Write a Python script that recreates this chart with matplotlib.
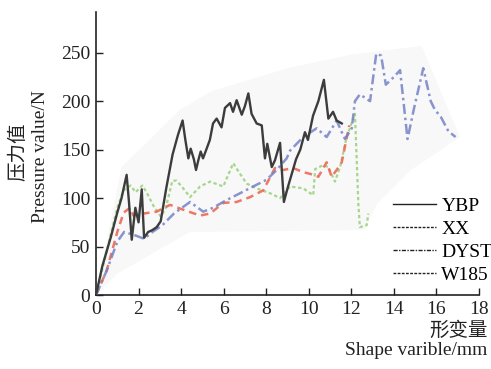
import matplotlib
matplotlib.use("Agg")
import matplotlib.pyplot as plt
from matplotlib.lines import Line2D
from matplotlib.patches import Polygon

# ---------------- data ----------------
ybp_x = [0, 0.3, 0.7, 1.0, 1.2, 1.44, 1.55, 1.68, 1.85, 2.0, 2.15, 2.26, 2.45, 2.65, 2.85, 3.04,
         3.3, 3.6, 3.85, 4.07, 4.2, 4.34, 4.45, 4.6, 4.7, 4.82, 4.92, 5.03, 5.2, 5.35, 5.5, 5.67,
         5.9, 6.06, 6.3, 6.44, 6.61, 6.85, 7.0, 7.16, 7.31, 7.55, 7.79, 7.94, 8.05, 8.26, 8.41,
         8.65, 8.83, 9.0, 9.2, 9.4, 9.6, 9.82, 9.96, 10.2, 10.45, 10.71, 10.92, 11.14, 11.31, 11.55]
ybp_y = [0, 30, 60, 85, 100, 124, 96, 57, 90, 75, 109, 59, 65, 67, 70, 76,
         110, 145, 165, 180, 160, 141, 151, 140, 129, 140, 148, 141, 151, 160, 177, 182,
         173, 193, 198, 189, 201, 186, 195, 208, 187, 177, 175, 141, 156, 132, 139,
         157, 96, 110, 125, 140, 150, 168, 160, 185, 200, 222, 182, 189, 180, 177]

xx_x = [0, 0.5, 1.0, 1.3, 1.6, 1.75, 2.22, 2.85, 3.48, 4.1, 4.89, 5.36, 5.98, 6.61, 7.24, 7.86,
        8.41, 8.8, 9.27, 9.7, 10.06, 10.45, 10.84, 11.07, 11.31, 11.55, 11.9]
xx_y = [0, 25, 65, 85, 90, 82, 84, 86, 93, 88, 82, 84, 95, 96, 101, 108,
        131, 129, 131, 127, 125, 122, 137, 122, 129, 137, 175]

dyst_x = [0, 0.5, 1.0, 1.32, 1.79, 2.26, 2.65, 3.12, 3.66, 4.42, 5.04, 5.5, 6.14, 6.77, 7.39,
          8.02, 8.49, 8.96, 9.12, 9.74, 10.37, 10.84, 11.31, 11.55, 11.7, 12.02, 12.17, 12.4,
          12.88, 13.17, 13.4, 13.62, 14.0, 14.29, 14.64, 14.95, 15.38, 15.73, 15.93, 16.2,
          16.56, 16.9]
dyst_y = [0, 25, 55, 65, 62, 58, 65, 72, 84, 96, 86, 90, 98, 105, 112,
          119, 129, 141, 149, 163, 172, 163, 180, 168, 161, 172, 200, 207,
          200, 249, 247, 217, 225, 232, 161, 193, 234, 200, 191, 184,
          169, 163]

w185_x = [0, 0.5, 1.0, 1.3, 1.63, 1.86, 2.18, 2.4, 2.7, 3.04, 3.27, 3.59, 3.79, 4.1, 4.42,
          4.89, 5.36, 5.98, 6.45, 6.77, 7.08, 7.55, 8.18, 8.65, 9.12, 9.74, 10.21, 10.3,
          10.68, 10.92, 11.23, 11.47, 11.78, 12.17, 12.33, 12.4, 12.72, 12.8]
w185_y = [0, 45, 90, 108, 113, 106, 113, 105, 92, 81, 89, 118, 118, 110, 101,
          112, 117, 112, 136, 125, 115, 110, 105, 100, 112, 110, 103, 130,
          134, 132, 117, 132, 163, 187, 94, 70, 72, 84]

env_x = [0, 1.2, 3.95, 5.4, 9.0, 12.0, 15.3, 16.3, 17.1, 14.8, 13.2, 12.6, 4.4, 1.0]
env_y = [0, 132, 191, 210, 234, 248, 257, 205, 163, 129, 94, 67, 65, 22]

legend_labels = ["YBP", "XX", "DYST", "W185"]
x_ticks = [0, 2, 4, 6, 8, 10, 12, 14, 16, 18]
y_ticks = [0, 50, 100, 150, 200, 250]

# ---------------- figure ----------------
serif = ["Liberation Serif", "Noto Sans CJK SC", "DejaVu Serif"]
plt.rcParams["font.family"] = serif

fig = plt.figure(figsize=(4.91, 3.69), dpi=100)
ax = fig.add_axes([0.1955, 0.2005, 0.7801, 0.767])

ax.add_patch(Polygon(list(zip(env_x, env_y)), closed=True, facecolor="#f8f8f8",
                     edgecolor="none", zorder=0))

ax.plot(w185_x, w185_y, color="#a6d68c", lw=1.6, ls=(0, (1.5, 1.2)), zorder=2)
ax.plot(xx_x, xx_y, color="#ec6a55", lw=1.8, ls=(0, (3, 2)), zorder=3, alpha=0.9)
ax.plot(dyst_x, dyst_y, color="#7682c6", lw=1.8, ls=(0, (4, 1.5, 1, 1.5)), zorder=4, alpha=0.85)
ax.plot(ybp_x, ybp_y, color="#3c3c3c", lw=1.7, zorder=5)

ax.set_xlim(0, 18)
ax.set_ylim(0, 292)
ax.set_xticks(x_ticks)
ax.set_yticks(y_ticks)
ax.tick_params(direction="in", length=5, width=1, labelsize=14, colors="#222222")
ax.tick_params(axis="x", pad=4)
ax.tick_params(axis="y", pad=4)
for s in ("top", "right"):
    ax.spines[s].set_visible(False)
for s in ("left", "bottom"):
    ax.spines[s].set_linewidth(1.2)
    ax.spines[s].set_color("#222222")

handles = [
    Line2D([], [], color="#222222", lw=1.0, ls="-"),
    Line2D([], [], color="#222222", lw=1.0, ls=(0, (2, 1))),
    Line2D([], [], color="#222222", lw=1.0, ls=(0, (3, 1, 1, 1))),
    Line2D([], [], color="#222222", lw=1.0, ls=(0, (2, 1))),
]
leg = ax.legend(handles, legend_labels, loc="upper left", bbox_to_anchor=(0.775, 0.345),
                frameon=False, fontsize=14, handlelength=2.2, handletextpad=0.3,
                labelspacing=0.28, borderpad=0, borderaxespad=0)

fig.text(0.038, 0.588, "压力值", rotation=90, ha="center", va="center", fontsize=14,
         color="#222222")
fig.text(0.083, 0.577, "Pressure value/N", rotation=90, ha="center", va="center",
         fontsize=14, color="#222222")
fig.text(0.993, 0.105, "形变量", ha="right", va="center", fontsize=14, color="#222222")
fig.text(0.993, 0.05, "Shape varible/mm", ha="right", va="center", fontsize=14,
         color="#222222")

fig.savefig("out.png", dpi=100)
